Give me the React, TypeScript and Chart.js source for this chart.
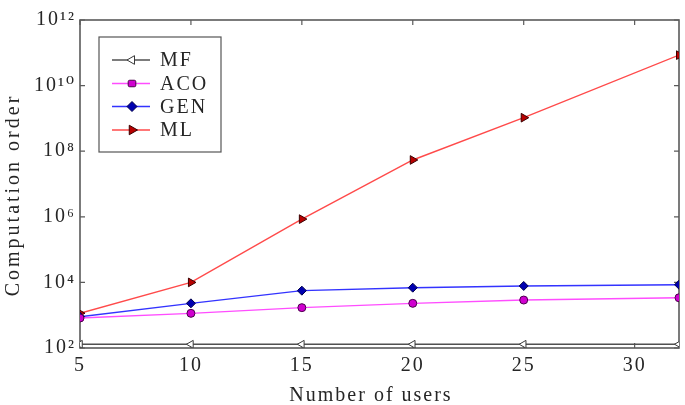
import React, { useEffect, useRef } from 'react';
import { Chart, registerables } from 'chart.js';

Chart.register(...registerables);

// Number of users on the x axis
const users = [5, 10, 15, 20, 25, 32];

// Computation order of each method
const mfOrder = [130, 130, 130, 130, 130, 130];
const acoOrder = [820, 1140, 1700, 2300, 2900, 3400];
const genOrder = [900, 2300, 5600, 6900, 7800, 8500];
const mlOrder = [1150, 10000, 850000, 54000000, 1.05e9, 8.5e10];

// Axis ticks and titles
const xTickValues = [5, 10, 15, 20, 25, 30];
const yTickExponents = [2, 4, 6, 8, 10, 12];
const xTitle = 'Number of users';
const yTitle = 'Computation order';

const SERIF = '"Liberation Serif", "DejaVu Serif", serif';
const TEXT = '#262626';
const SUP = '⁰¹²³⁴⁵⁶⁷⁸⁹';

const toSup = (n: number) =>
  String(n)
    .split('')
    .map((d) => SUP[Number(d)])
    .join('');

type Marker = 'triLeft' | 'circle' | 'diamond' | 'triRight';

const series: {
  label: string;
  data: number[];
  line: string;
  fill: string;
  edge: string;
  marker: Marker;
  legendMarker: Marker | 'square';
  radius: number;
}[] = [
  { label: 'MF', data: mfOrder, line: '#505050', fill: '#ffffff', edge: '#3a3a3a', marker: 'triLeft', legendMarker: 'triLeft', radius: 4.5 },
  { label: 'ACO', data: acoOrder, line: '#ff4dff', fill: '#d000d0', edge: '#4a004a', marker: 'circle', legendMarker: 'square', radius: 4 },
  { label: 'GEN', data: genOrder, line: '#3333ff', fill: '#0000b0', edge: '#00004a', marker: 'diamond', legendMarker: 'diamond', radius: 4.5 },
  { label: 'ML', data: mlOrder, line: '#ff4a4a', fill: '#b80000', edge: '#3a0000', marker: 'triRight', legendMarker: 'triRight', radius: 5 },
];

const pointStyleOf = (m: Marker) =>
  m === 'triLeft' || m === 'triRight' ? 'triangle' : m === 'diamond' ? 'rectRot' : 'circle';
const rotationOf = (m: Marker) => (m === 'triLeft' ? -90 : m === 'triRight' ? 90 : 0);

function drawMarker(ctx: CanvasRenderingContext2D, kind: Marker | 'square', x: number, y: number, r: number) {
  ctx.beginPath();
  if (kind === 'triLeft' || kind === 'triRight') {
    const base = kind === 'triLeft' ? -Math.PI / 2 : Math.PI / 2;
    for (let i = 0; i < 3; i++) {
      const a = base + (i * 2 * Math.PI) / 3;
      const px = x + Math.sin(a) * r;
      const py = y - Math.cos(a) * r;
      if (i === 0) ctx.moveTo(px, py);
      else ctx.lineTo(px, py);
    }
    ctx.closePath();
  } else if (kind === 'diamond') {
    ctx.moveTo(x, y - r);
    ctx.lineTo(x + r, y);
    ctx.lineTo(x, y + r);
    ctx.lineTo(x - r, y);
    ctx.closePath();
  } else if (kind === 'square') {
    const s = r * 0.85;
    ctx.roundRect(x - s, y - s * 0.85, 2 * s, 1.7 * s, 1.5);
  } else {
    ctx.arc(x, y, r, 0, Math.PI * 2);
  }
  ctx.fill();
  ctx.stroke();
}

const spacingPlugin = {
  id: 'letterSpacing',
  beforeLayout(chart: any) {
    chart.ctx.letterSpacing = '2px';
  },
  beforeDraw(chart: any) {
    chart.ctx.letterSpacing = '2px';
  },
};

// Box around the plot with inward tick marks on all four sides
const framePlugin = {
  id: 'boxFrame',
  beforeDatasetsDraw(chart: any) {
    const { ctx, chartArea: a, scales } = chart;
    ctx.save();
    ctx.strokeStyle = '#5a5a5a';
    ctx.lineWidth = 1.6;
    ctx.strokeRect(a.left, a.top, a.right - a.left, a.bottom - a.top);
    ctx.lineWidth = 1.2;
    ctx.beginPath();
    for (const v of xTickValues) {
      const px = scales.x.getPixelForValue(v);
      ctx.moveTo(px, a.top);
      ctx.lineTo(px, a.top + 5);
      ctx.moveTo(px, a.bottom);
      ctx.lineTo(px, a.bottom - 5);
    }
    for (const e of yTickExponents) {
      const py = scales.y.getPixelForValue(Math.pow(10, e));
      ctx.moveTo(a.left, py);
      ctx.lineTo(a.left + 5, py);
      ctx.moveTo(a.right, py);
      ctx.lineTo(a.right - 5, py);
    }
    ctx.stroke();
    ctx.restore();
  },
};

// Axis titles
const titlesPlugin = {
  id: 'axisTitles',
  afterDraw(chart: any) {
    const ctx: CanvasRenderingContext2D = chart.ctx;
    ctx.save();
    ctx.fillStyle = TEXT;
    ctx.font = `20px ${SERIF}`;
    ctx.textAlign = 'center';
    ctx.textBaseline = 'middle';
    (ctx as any).letterSpacing = '2px';
    ctx.fillText(xTitle, 371, 396);
    (ctx as any).letterSpacing = '3px';
    ctx.translate(14, 195);
    ctx.rotate(-Math.PI / 2);
    ctx.fillText(yTitle, 0, 0);
    ctx.restore();
  },
};

// Boxed legend in the upper-left corner of the plot
const legendPlugin = {
  id: 'boxLegend',
  afterDraw(chart: any) {
    const ctx: CanvasRenderingContext2D = chart.ctx;
    const box = { x: 99, y: 37, w: 122, h: 115 };
    ctx.save();
    ctx.fillStyle = '#ffffff';
    ctx.fillRect(box.x, box.y, box.w, box.h);
    ctx.strokeStyle = '#555555';
    ctx.lineWidth = 1.2;
    ctx.strokeRect(box.x, box.y, box.w, box.h);
    const rows = [60, 83.5, 106.5, 130];
    series.forEach((s, i) => {
      const y = rows[i];
      ctx.strokeStyle = s.line;
      ctx.lineWidth = 1.5;
      ctx.beginPath();
      ctx.moveTo(112, y);
      ctx.lineTo(150, y);
      ctx.stroke();
      ctx.fillStyle = s.fill;
      ctx.strokeStyle = s.edge;
      ctx.lineWidth = 1;
      drawMarker(ctx, s.legendMarker, 132, y, s.radius + 0.5);
      (ctx as any).letterSpacing = '2px';
      ctx.fillStyle = TEXT;
      ctx.font = `20px ${SERIF}`;
      ctx.textAlign = 'left';
      ctx.textBaseline = 'middle';
      ctx.fillText(s.label, 160, y + 1);
    });
    ctx.restore();
  },
};

export default function App() {
  const canvasRef = useRef<HTMLCanvasElement | null>(null);

  useEffect(() => {
    const canvas = canvasRef.current;
    if (!canvas) return;
    const chart = new Chart(canvas, {
      type: 'line',
      data: {
        datasets: series.map((s) => ({
          label: s.label,
          data: users.map((u, i) => ({ x: u, y: s.data[i] })),
          borderColor: s.line,
          borderWidth: 1.4,
          backgroundColor: s.fill,
          pointBackgroundColor: s.fill,
          pointBorderColor: s.edge,
          pointBorderWidth: 1,
          pointStyle: pointStyleOf(s.marker) as any,
          pointRotation: rotationOf(s.marker),
          pointRadius: s.radius,
          tension: 0,
          fill: false,
        })),
      },
      options: {
        animation: false,
        responsive: false,
        events: [],
        layout: { padding: { top: 20, right: 3, left: 0, bottom: 0 } },
        plugins: {
          legend: { display: false },
          tooltip: { enabled: false },
        },
        scales: {
          x: {
            type: 'linear',
            min: 5,
            max: 32,
            grid: { display: false, drawTicks: false, tickLength: 0 },
            border: { display: false },
            afterBuildTicks: (scale: any) => {
              scale.ticks = xTickValues.map((v) => ({ value: v }));
            },
            afterFit: (scale: any) => {
              scale.height = 57;
            },
            ticks: {
              padding: 6,
              color: TEXT,
              font: { family: SERIF, size: 20 },
              maxRotation: 0,
              autoSkip: false,
            },
            title: { display: false },
          },
          y: {
            type: 'logarithmic',
            min: 100,
            max: 1e12,
            grid: { display: false, drawTicks: false, tickLength: 0 },
            border: { display: false },
            afterBuildTicks: (scale: any) => {
              scale.ticks = yTickExponents.map((e) => ({ value: Math.pow(10, e) }));
            },
            afterFit: (scale: any) => {
              scale.width = 80;
            },
            ticks: {
              padding: 4,
              color: TEXT,
              font: { family: SERIF, size: 20 },
              autoSkip: false,
              callback: (v: any) => '10' + toSup(Math.round(Math.log10(Number(v)))),
            },
            title: { display: false },
          },
        },
      } as any,
      plugins: [spacingPlugin, framePlugin, titlesPlugin, legendPlugin],
    });
    return () => chart.destroy();
  }, []);

  return (
    <div style={{ position: 'fixed', left: 0, top: 0, width: 685, height: 405, background: '#ffffff' }}>
      <canvas ref={canvasRef} width={685} height={405} style={{ display: 'block' }} />
    </div>
  );
}
